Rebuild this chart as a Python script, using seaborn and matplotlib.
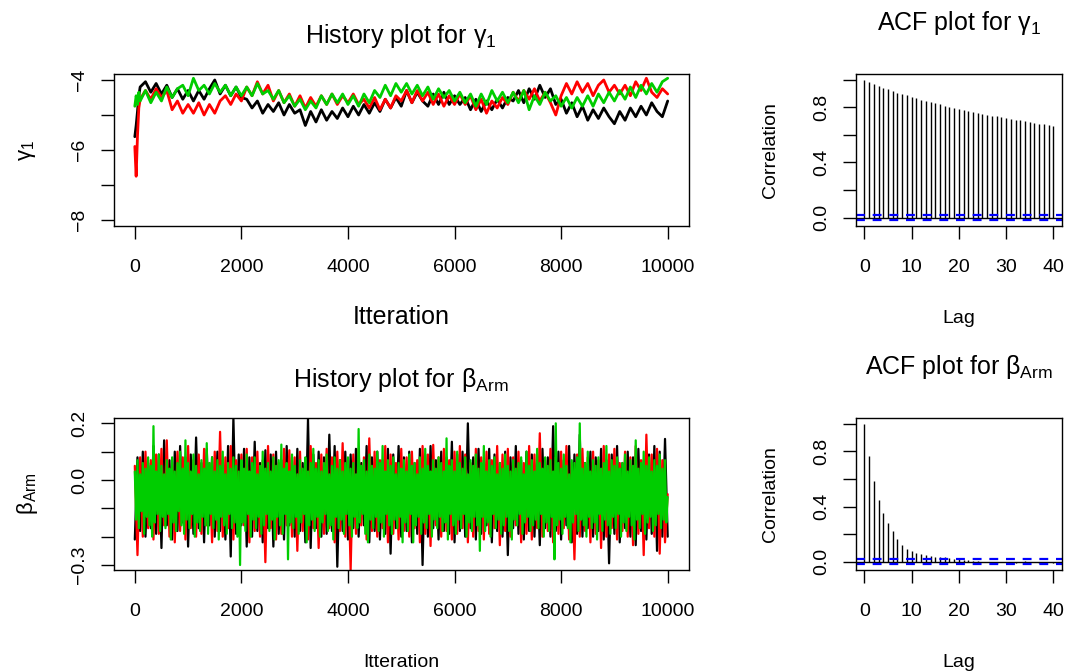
import matplotlib
matplotlib.use("Agg")
import matplotlib.pyplot as plt
import seaborn as sns
import pandas as pd

# ---------------- data ----------------
chain_names = ["chain1", "chain2", "chain3"]
chain_colors = ["#000000", "#FF0000", "#00CD00"]

# gamma_1 history
gamma_iter = [0, 25, 50, 75] + list(range(100, 10001, 100))
gamma_black = [-5.62, -5.3, -4.9, -4.45, -4.2,
               -4.05, -4.35, -4.1, -4.4, -4.15, -4.5, -4.25, -4.55, -4.3,
               -4.6, -4.3, -4.55, -4.25, -4.0, -4.4, -4.15, -4.45, -4.2, -4.5,
               -4.55, -4.8, -4.6, -4.95, -4.7, -4.9, -4.65, -5.0, -4.7, -4.95,
               -4.85, -5.3, -4.9, -5.2, -4.85, -5.15, -4.9, -5.1, -4.8, -5.05,
               -4.75, -5.0, -4.7, -4.95, -4.65, -4.9, -4.55, -4.8, -4.5, -4.75,
               -4.3, -4.65, -4.35, -4.6, -4.75, -4.4, -4.7, -4.35, -4.7, -4.45,
               -4.7, -4.5, -4.85, -4.55, -4.9, -4.6, -4.85, -4.55, -4.8, -4.5,
               -4.6, -4.3, -4.65, -4.25, -4.55, -4.15, -4.5, -4.25, -4.7, -4.55,
               -4.95, -4.65, -5.05, -4.75, -5.15, -4.85, -5.1, -4.8, -5.05, -5.25,
               -4.9, -5.15, -4.8, -5.05, -4.75, -5.0, -4.65, -4.9, -5.05, -4.6]
gamma_red = [-5.9, -6.75, -5.6, -4.8, -4.55,
             -4.3, -4.55, -4.25, -4.5, -4.3, -4.85, -4.6, -4.95, -4.7,
             -4.95, -4.65, -5.0, -4.7, -4.95, -4.6, -4.45, -4.7, -4.4, -4.6,
             -4.2, -4.45, -4.05, -4.4, -4.15, -4.6, -4.3, -4.65, -4.4, -4.75,
             -4.45, -4.8, -4.5, -4.75, -4.45, -4.7, -4.4, -4.7, -4.45, -4.65,
             -4.4, -4.7, -4.55, -4.8, -4.5, -4.85, -4.55, -4.8, -4.45, -4.6,
             -4.3, -4.65, -4.3, -4.6, -4.35, -4.7, -4.4, -4.75, -4.45, -4.7,
             -4.4, -4.7, -4.45, -4.85, -4.55, -4.95, -4.6, -4.8, -4.5, -4.7,
             -4.35, -4.6, -4.3, -4.55, -4.25, -4.6, -4.35, -4.65, -5.0, -4.45,
             -4.1, -4.4, -4.05, -4.35, -4.1, -4.45, -4.15, -4.0, -4.35, -4.15,
             -4.4, -4.15, -4.45, -4.05, -4.3, -3.95, -4.35, -4.5, -4.25, -4.4]
gamma_green = [-4.75, -4.45, -4.7, -4.35, -4.6,
               -4.3, -4.65, -4.35, -4.6, -4.2, -4.5, -4.25, -4.15, -4.45,
               -3.95, -4.3, -4.15, -4.4, -4.1, -4.35, -4.15, -4.45, -4.2, -4.45,
               -4.2, -4.45, -4.1, -4.4, -4.3, -4.55, -4.3, -4.65, -4.45, -4.75,
               -4.55, -4.85, -4.6, -4.8, -4.45, -4.7, -4.4, -4.65, -4.4, -4.7,
               -4.45, -4.75, -4.4, -4.65, -4.3, -4.5, -4.15, -4.45, -4.1, -4.35,
               -4.1, -4.4, -4.15, -4.45, -4.2, -4.55, -4.25, -4.5, -4.3, -4.6,
               -4.35, -4.65, -4.4, -4.75, -4.4, -4.7, -4.3, -4.6, -4.35, -4.65,
               -4.35, -4.65, -4.3, -4.85, -4.45, -4.7, -4.35, -4.6, -4.45, -4.75,
               -4.5, -4.8, -4.5, -4.75, -4.45, -4.75, -4.4, -4.65, -4.35, -4.6,
               -4.3, -4.55, -4.2, -4.5, -4.15, -4.4, -4.1, -4.35, -4.05, -3.95]

# beta_Arm history: chains 1 and 2 every 50 iterations, chain 3 every 25
beta_iter = list(range(0, 10001, 50))
beta_iter_green = list(range(0, 10001, 25))
beta_black = [-0.21, 0.08, -0.18, 0.1, -0.2, 0.06, -0.17, 0.12, -0.19, 0.09,
              -0.24, 0.14, -0.16, 0.07, -0.21, 0.1, -0.18, 0.12, -0.15, 0.08,
              -0.235, 0.09, -0.19, 0.15, -0.17, 0.06, -0.22, 0.11, -0.16, 0.08,
              -0.2, 0.1, -0.18, 0.07, -0.21, 0.12, -0.27, 0.22, -0.19, 0.09,
              -0.16, 0.11, -0.235, 0.08, -0.2, 0.135, -0.18, 0.06, -0.22, 0.105,
              -0.17, 0.09, -0.235, 0.1, -0.19, 0.07, -0.21, 0.12, -0.16, 0.08,
              -0.2, 0.11, -0.18, 0.06, -0.22, 0.215, -0.24, 0.09, -0.17, 0.1,
              -0.2, 0.08, -0.19, 0.16, -0.18, 0.12, -0.306, 0.07, -0.18, 0.1,
              -0.21, 0.09, -0.17, 0.11, -0.2, 0.06, -0.16, 0.12, -0.22, 0.08,
              -0.18, 0.1, -0.21, 0.07, -0.19, 0.11, -0.26, 0.09, -0.17, 0.12,
              -0.2, 0.08, -0.18, 0.1, -0.22, 0.06, -0.19, 0.11, -0.3, 0.09,
              -0.2, 0.12, -0.17, 0.07, -0.21, 0.1, -0.18, 0.08, -0.19, 0.135,
              -0.22, 0.09, -0.18, 0.1, -0.2, 0.2, -0.17, 0.08, -0.21, 0.11,
              -0.19, 0.07, -0.16, 0.11, -0.22, 0.09, -0.18, 0.06, -0.2, 0.1,
              -0.265, 0.08, -0.17, 0.12, -0.19, 0.07, -0.21, 0.1, -0.18, 0.09,
              -0.2, 0.06, -0.23, 0.11, -0.17, 0.08, -0.2, 0.19, -0.18, 0.1,
              -0.21, 0.07, -0.16, 0.12, -0.22, 0.09, -0.19, 0.16, -0.2, 0.06,
              -0.17, 0.1, -0.2, 0.08, -0.18, 0.11, -0.21, 0.07, -0.294, 0.09,
              -0.19, 0.12, -0.22, 0.06, -0.17, 0.1, -0.2, 0.08, -0.23, 0.11,
              -0.18, 0.07, -0.21, 0.09, -0.19, 0.12, -0.25, 0.1, -0.2, 0.145,
              -0.2]
beta_red = [0.05, -0.265, 0.08, -0.2, 0.1, -0.17, 0.07, -0.21, 0.09, -0.19,
            0.11, -0.16, 0.14, -0.2, 0.06, -0.22, 0.1, -0.18, 0.08, -0.21,
            0.12, -0.17, 0.07, -0.2, 0.09, -0.19, 0.11, -0.16, 0.06, -0.22,
            0.1, -0.18, 0.17, -0.2, 0.08, -0.17, 0.12, -0.21, 0.07, -0.19,
            0.09, -0.16, 0.11, -0.22, 0.08, -0.18, 0.1, -0.2, 0.07, -0.29,
            0.12, -0.17, 0.09, -0.21, 0.06, -0.19, 0.11, -0.16, 0.105, -0.2,
            0.08, -0.25, 0.1, -0.18, 0.07, -0.21, 0.12, -0.17, 0.06, -0.24,
            0.09, -0.19, 0.11, -0.17, 0.08, -0.22, 0.1, -0.18, 0.13, -0.2,
            0.07, -0.318, 0.09, -0.19, 0.11, -0.16, 0.08, -0.21, 0.147, -0.18,
            0.1, -0.2, 0.07, -0.17, 0.12, -0.22, 0.09, -0.19, 0.06, -0.21,
            0.11, -0.18, 0.08, -0.2, 0.1, -0.17, 0.07, -0.22, 0.12, -0.19,
            0.09, -0.233, 0.124, -0.16, 0.08, -0.2, 0.11, -0.18, 0.07, -0.21,
            0.1, -0.19, 0.12, -0.17, 0.09, -0.22, 0.06, -0.2, 0.11, -0.18,
            0.08, -0.21, 0.1, -0.19, 0.07, -0.17, 0.12, -0.23, 0.09, -0.18,
            0.11, -0.2, 0.08, -0.16, 0.1, -0.22, 0.06, -0.19, 0.12, -0.21,
            0.09, -0.17, 0.165, -0.2, 0.07, -0.18, 0.11, -0.22, 0.08, -0.19,
            0.1, -0.17, 0.12, -0.21, 0.06, -0.28, 0.09, -0.2, 0.11, -0.18,
            0.08, -0.22, 0.1, -0.19, 0.07, -0.24, 0.12, -0.2, 0.09, -0.17,
            0.11, -0.21, 0.06, -0.18, 0.1, -0.2, 0.08, -0.23, 0.12, -0.19,
            0.07, -0.265, 0.16, -0.17, 0.09, -0.2, 0.11, -0.26, 0.07, -0.22,
            -0.05]
beta_green = [0.03, -0.14, 0.07, -0.17, 0.02, -0.11, 0.06, -0.19, 0.04, -0.13,
              0.08, -0.16, 0.05, -0.2, 0.19, -0.15, 0.03, -0.12, 0.09, -0.18,
              0.05, -0.13, 0.02, -0.17, 0.07, -0.12, 0.04, -0.21, 0.08, -0.15,
              0.03, -0.18, 0.06, -0.11, 0.1, -0.16, 0.04, -0.19, 0.14, -0.14,
              0.06, -0.17, 0.03, -0.12, 0.09, -0.2, 0.05, -0.15, 0.02, -0.18,
              0.07, -0.13, 0.04, -0.16, 0.13, -0.19, 0.06, -0.12, 0.08, -0.17,
              0.03, -0.14, 0.07, -0.21, 0.05, -0.13, 0.1, -0.16, 0.02, -0.19,
              0.06, -0.12, 0.04, -0.17, 0.08, -0.15, 0.05, -0.2, 0.03, -0.3,
              0.07, -0.15, 0.04, -0.18, 0.09, -0.12, 0.03, -0.2, 0.06, -0.14,
              0.08, -0.17, 0.02, -0.13, 0.05, -0.19, 0.1, -0.16, 0.04, -0.12,
              0.06, -0.18, 0.03, -0.14, 0.08, -0.21, 0.05, -0.13, 0.07, -0.16,
              0.125, -0.19, 0.04, -0.12, 0.06, -0.28, 0.03, -0.15, 0.09, -0.17,
              0.05, -0.13, 0.02, -0.19, 0.07, -0.15, 0.04, -0.12, 0.08, -0.22,
              0.03, -0.16, 0.06, -0.14, 0.11, -0.18, 0.04, -0.13, 0.07, -0.2,
              0.03, -0.15, 0.06, -0.12, 0.09, -0.18, 0.02, -0.16, 0.05, -0.21,
              0.08, -0.13, 0.04, -0.17, 0.07, -0.14, 0.03, -0.19, 0.06, -0.12,
              0.08, -0.16, 0.04, -0.2, 0.06, -0.13, 0.02, -0.17, 0.18, -0.15,
              0.05, -0.12, 0.07, -0.19, 0.03, -0.22, 0.09, -0.14, 0.05, -0.17,
              0.04, -0.13, 0.1, -0.18, 0.06, -0.15, 0.12, -0.2, 0.03, -0.12,
              0.07, -0.16, 0.05, -0.19, 0.08, -0.14, 0.02, -0.17, 0.06, -0.13,
              0.04, -0.22, 0.07, -0.15, 0.03, -0.18, 0.09, -0.12, 0.05, -0.22,
              0.06, -0.16, 0.02, -0.13, 0.08, -0.19, 0.04, -0.15, 0.11, -0.17,
              0.05, -0.12, 0.03, -0.2, 0.07, -0.14, 0.04, -0.17, 0.08, -0.13,
              0.06, -0.18, 0.03, -0.15, 0.147, -0.21, 0.05, -0.12, 0.07, -0.16,
              0.03, -0.19, 0.1, -0.14, 0.06, -0.17, 0.04, -0.12, 0.08, -0.2,
              0.02, -0.15, 0.07, -0.18, 0.05, -0.13, 0.09, -0.16, 0.04, -0.25,
              0.06, -0.13, 0.12, -0.18, 0.03, -0.15, 0.07, -0.2, 0.05, -0.12,
              0.08, -0.17, 0.02, -0.14, 0.06, -0.19, 0.04, -0.16, 0.09, -0.13,
              0.05, -0.18, 0.03, -0.21, 0.07, -0.14, 0.04, -0.16, 0.06, -0.12,
              0.08, -0.19, 0.02, -0.15, 0.1, -0.13, 0.05, -0.18, 0.07, -0.16,
              0.03, -0.14, 0.11, -0.17, 0.06, -0.12, 0.04, -0.2, 0.08, -0.15,
              0.05, -0.18, 0.07, -0.13, 0.03, -0.28, 0.2, -0.16, 0.06, -0.14,
              0.04, -0.19, 0.09, -0.13, 0.05, -0.17, 0.02, -0.22, 0.07, -0.15,
              0.06, -0.12, 0.08, -0.18, 0.2, -0.14, 0.04, -0.16, 0.06, -0.2,
              0.1, -0.13, 0.03, -0.17, 0.07, -0.15, 0.05, -0.21, 0.08, -0.12,
              0.04, -0.18, 0.06, -0.14, 0.12, -0.16, 0.03, -0.19, 0.07, -0.13,
              0.05, -0.17, 0.08, -0.12, 0.04, -0.2, 0.06, -0.15, 0.09, -0.18,
              0.03, -0.13, 0.07, -0.16, 0.05, -0.21, 0.14, -0.14, 0.04, -0.17,
              0.06, -0.12, 0.1, -0.19, 0.05, -0.15, 0.08, -0.13, 0.03, -0.18,
              0.07, -0.16, 0.05, -0.12, 0.09, -0.17, 0.04, -0.14, 0.07, -0.15,
              -0.06]

# autocorrelations
acf_lags = list(range(0, 41))
acf_gamma = [1.0, 0.983, 0.971, 0.956, 0.942, 0.930, 0.917, 0.905, 0.896, 0.886,
             0.874, 0.864, 0.854, 0.847, 0.837, 0.828, 0.820, 0.811, 0.803, 0.796,
             0.786, 0.779, 0.772, 0.767, 0.760, 0.752, 0.745, 0.738, 0.733, 0.726,
             0.721, 0.714, 0.709, 0.704, 0.697, 0.692, 0.687, 0.682, 0.677, 0.672,
             0.667]
acf_beta = [1.0, 0.766, 0.586, 0.45, 0.35, 0.28, 0.22, 0.165, 0.12, 0.09,
            0.075, 0.062, 0.052, 0.045, 0.04, 0.036, 0.033, 0.03, 0.025, 0.02,
            0.018, 0.015, 0.012, 0.008, 0.004, -0.003, -0.006, -0.005, -0.008, -0.004,
            -0.006, -0.004, -0.007, -0.003, 0.002, -0.005, -0.006, -0.008, -0.004, -0.006,
            -0.007]
acf_ci = 0.019

# ---------------- style ----------------
sns.set_style("ticks")
plt.rcParams["font.family"] = ["Liberation Sans", "DejaVu Sans"]
plt.rcParams["mathtext.default"] = "regular"
plt.rcParams["axes.linewidth"] = 1.0
plt.rcParams["xtick.major.size"] = 9.4
plt.rcParams["ytick.major.size"] = 9.4
plt.rcParams["xtick.major.width"] = 1.0
plt.rcParams["ytick.major.width"] = 1.0
plt.rcParams["xtick.color"] = "black"
plt.rcParams["ytick.color"] = "black"
plt.rcParams["axes.edgecolor"] = "black"
plt.rcParams["text.color"] = "black"
plt.rcParams["axes.labelcolor"] = "black"

TICK_FS = 14
TITLE_FS = 18

fig = plt.figure(figsize=(10.67, 6.72), dpi=100)
fig.patch.set_facecolor("white")

W, H = 1067.0, 672.0


def px_axes(x0, y0, x1, y1):
    return fig.add_axes([x0 / W, 1 - y1 / H, (x1 - x0) / W, (y1 - y0) / H])


ax_g = px_axes(113.5, 74, 689, 226)
ax_b = px_axes(113.5, 418, 689, 570)
ax_ga = px_axes(856, 74, 1061.7, 226)
ax_ba = px_axes(856, 418.3, 1061.7, 570)


def trace(ax, iters_list, series, widths):
    for name, iters, vals, col, lw in zip(chain_names, iters_list, series,
                                          chain_colors, widths):
        df = pd.DataFrame({"Iteration": iters, "value": vals})
        sns.lineplot(data=df, x="Iteration", y="value", color=col,
                     estimator=None, sort=False, lw=lw, ax=ax)
    ax.set_xlim(-400, 10400)
    ax.set_xticks([0, 2000, 4000, 6000, 8000, 10000])
    ax.set_xticklabels(["0", "2000", "4000", "6000", "8000", "10000"], fontsize=TICK_FS)
    ax.tick_params(axis="x", pad=14)
    ax.tick_params(axis="y", pad=9)


def acf_plot(ax, vals, title, lag_label_pad):
    ax.vlines(acf_lags, 0, vals, color="black", lw=1.0)
    ax.axhline(0, color="black", lw=1.0)
    for c in (acf_ci, -acf_ci):
        ax.axhline(c, color="#0000FF", lw=1.6, ls=(0, (4, 3.5)))
    ax.set_xlim(-1.77, 41.77)
    ax.set_ylim(-0.061, 1.041)
    ax.set_xticks([0, 10, 20, 30, 40])
    ax.set_xticklabels(["0", "10", "20", "30", "40"], fontsize=TICK_FS)
    ax.set_yticks([0.0, 0.2, 0.4, 0.6, 0.8, 1.0])
    ax.set_yticklabels(["0.0", "", "0.4", "", "0.8", ""], fontsize=TICK_FS,
                       rotation=90, va="center")
    ax.tick_params(axis="x", pad=14)
    ax.tick_params(axis="y", pad=9)
    ax.set_xlabel("Lag", fontsize=TICK_FS, labelpad=lag_label_pad)
    ax.set_ylabel("Correlation", fontsize=TICK_FS, labelpad=25)
    ax.set_title(title, fontsize=TITLE_FS, pad=32)


# gamma trace
trace(ax_g, [gamma_iter] * 3, [gamma_black, gamma_red, gamma_green], [2.0, 2.0, 2.0])
ax_g.set_ylim(-8.171, -3.829)
ax_g.set_yticks([-8, -7, -6, -5, -4])
ax_g.set_yticklabels(["\u22128", "", "\u22126", "", "\u22124"], fontsize=TICK_FS,
                     rotation=90, va="center")
ax_g.set_xlabel("Itteration", fontsize=18, labelpad=21)
ax_g.set_ylabel("$γ_1$", fontsize=16, labelpad=24)
ax_g.set_title("History plot for $γ_1$", fontsize=TITLE_FS, pad=22)

# beta trace
trace(ax_b, [beta_iter, beta_iter, beta_iter_green],
      [beta_black, beta_red, beta_green], [1.6, 1.6, 1.6])
ax_b.set_ylim(-0.3176, 0.2188)
ax_b.set_yticks([-0.3, -0.2, -0.1, 0.0, 0.1, 0.2])
ax_b.set_yticklabels(["\u22120.3", "", "", "0.0", "", "0.2"], fontsize=TICK_FS,
                     rotation=90, va="center")
ax_b.set_xlabel("Itteration", fontsize=TICK_FS, labelpad=25)
ax_b.set_ylabel("$β_{Arm}$", fontsize=16, labelpad=22)
ax_b.set_title("History plot for $β_{Arm}$", fontsize=TITLE_FS, pad=22)

# ACF panels
acf_plot(ax_ga, acf_gamma, "ACF plot for $γ_1$", 25)
acf_plot(ax_ba, acf_beta, "ACF plot for $β_{Arm}$", 25)

for ax in (ax_g, ax_b, ax_ga, ax_ba):
    ax.set_facecolor("white")
    for s in ax.spines.values():
        s.set_visible(True)
        s.set_color("black")
        s.set_linewidth(1.0)

fig.savefig("out.png", dpi=100, facecolor="white")
